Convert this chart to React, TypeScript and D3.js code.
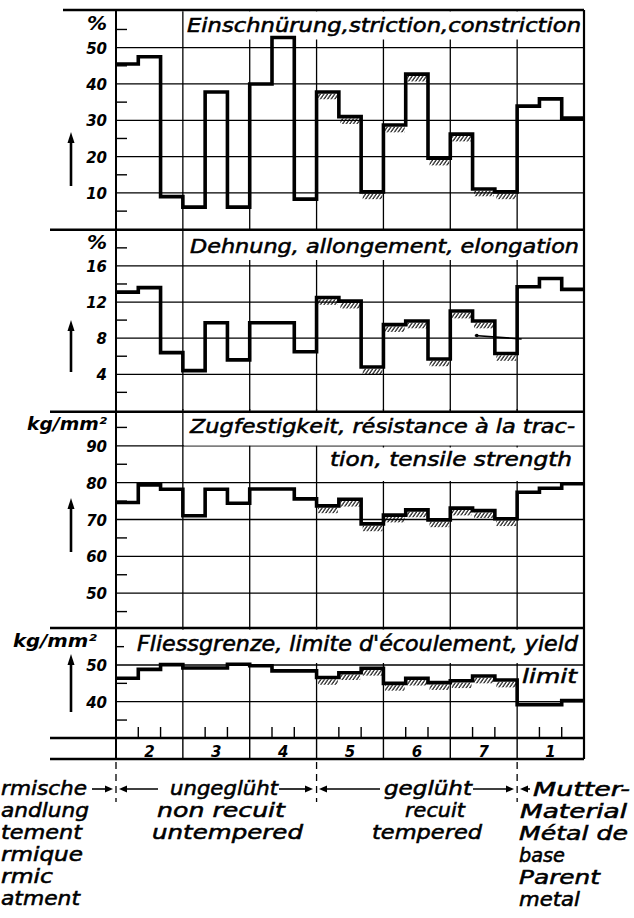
import React from "react";
import * as d3 from "d3";

// ---- data ----
const groups = ["2", "3", "4", "5", "6", "7", "1"];
const striction = [45.5, 47.5, 9.0, 6.1, 37.8, 6.1, 40.0, 52.8, 8.3, 37.8, 31.0, 10.3, 28.7, 42.7, 19.6, 26.2, 11.1, 10.3, 33.9, 35.9, 30.6];
const elongation = [13.1, 13.6, 6.4, 4.4, 9.7, 5.6, 9.7, 9.7, 6.5, 12.5, 12.1, 4.8, 9.5, 9.9, 5.7, 11.0, 9.9, 6.3, 13.7, 14.6, 13.4];
const elongationNote = [[16.1, 8.3], [18.2, 7.9]];
const tensile = [74.6, 79.4, 78.2, 71.0, 78.2, 74.4, 78.3, 78.3, 75.6, 73.7, 75.5, 68.8, 71.2, 72.6, 69.9, 73.1, 72.4, 70.2, 77.4, 78.5, 79.7];
const yieldLimit = [46.4, 48.8, 50.1, 49.2, 49.2, 50.2, 49.8, 48.4, 48.4, 46.6, 47.9, 49.1, 45.0, 46.4, 45.2, 45.7, 47.0, 45.9, 39.2, 39.2, 40.3];

const strictionTicks = [10, 20, 30, 40, 50];
const elongationTicks = [4, 8, 12, 16];
const tensileTicks = [50, 60, 70, 80, 90];
const yieldTicks = [40, 50];

const titles = [
  "Einschnürung,striction,constriction",
  "Dehnung, allongement, elongation",
  "Zugfestigkeit, résistance à la trac-",
  "tion, tensile strength",
  "Fliessgrenze, limite d'écoulement, yield",
  "limit",
];
// visible (cropped) part of "Thermische Behandlung / Traitement thermique / Thermic treatment"
const leftNotes = ["rmische", "andlung", "tement", "rmique", "rmic", "atment"];
const untemperedNotes = ["ungeglüht", "non recuit", "untempered"];
const temperedNotes = ["geglüht", "recuit", "tempered"];
const parentNotes = ["Mutter-", "Material", "Métal de", "base", "Parent", "metal"];

// ---- layout ----
const W = 634, H = 918;
const X0 = 116, X1 = 584;
const FONT = "'DejaVu Sans', sans-serif";
const x = d3.scaleLinear().domain([0, 21]).range([X0, X1]);

type Panel = {
  y: d3.ScaleLinear<number, number>;
  values: number[];
  grid: number[];
  minor: number[];
  unit: string;
  unitY: number;
  unitX: number;
  unitLen?: number;
  arrow: [number, number];
};

const panels: Panel[] = [
  {
    y: d3.scaleLinear().domain([0, 60]).range([229.3, 11.3]),
    values: striction, grid: strictionTicks, minor: [5, 15, 25, 35, 45, 55],
    unit: "%", unitY: 24, unitX: 107, arrow: [186, 132],
  },
  {
    y: d3.scaleLinear().domain([0, 20]).range([410.4, 229.8]),
    values: elongation, grid: elongationTicks, minor: [2, 6, 10, 14, 18],
    unit: "%", unitY: 243, unitX: 107, arrow: [372, 320],
  },
  {
    y: d3.scaleLinear().domain([40, 100]).range([630, 409]),
    values: tensile, grid: tensileTicks, minor: [45, 55, 65, 75, 85, 95],
    unit: "kg/mm²", unitY: 425, unitX: 107, unitLen: 80, arrow: [552, 498],
  },
  {
    y: d3.scaleLinear().domain([30, 60]).range([738.4, 628.3]),
    values: yieldLimit, grid: yieldTicks, minor: [35, 45, 55],
    unit: "kg/mm²", unitY: 642, unitX: 97, unitLen: 84, arrow: [712, 654],
  },
];

const separators = [229.7, 411.7, 628, 738, 759];
const hatchFrom = 9, hatchTo = 18; // groups 5, 6, 7

function stepPath(values: number[], y: d3.ScaleLinear<number, number>) {
  const pts: [number, number][] = values.map((v, i) => [i, v]);
  pts.push([21, values[values.length - 1]]);
  return d3.line<[number, number]>().x((d) => x(d[0])).y((d) => y(d[1])).curve(d3.curveStepAfter)(pts) || "";
}

function Arrow({ x1, x2, y, w = 1.6, head = 8, hw = 3.5 }: { x1: number; x2: number; y: number; w?: number; head?: number; hw?: number }) {
  const dir = x2 > x1 ? 1 : -1;
  return (
    <g>
      <line x1={x1} y1={y} x2={x2 - dir * head * 0.8} y2={y} stroke="#000" strokeWidth={w} />
      <polygon points={`${x2},${y} ${x2 - dir * head},${y - hw} ${x2 - dir * head},${y + hw}`} fill="#000" />
    </g>
  );
}

function UpArrow({ cx, y1, y2 }: { cx: number; y1: number; y2: number }) {
  return (
    <g>
      <line x1={cx} y1={y1} x2={cx} y2={y2 + 8} stroke="#000" strokeWidth={2.6} />
      <polygon points={`${cx},${y2} ${cx - 3.5},${y2 + 11} ${cx + 3.5},${y2 + 11}`} fill="#000" />
    </g>
  );
}

export default function App() {
  const groupBounds = d3.range(0, 22, 3);
  const subTicks = d3.range(0, 22).filter((i) => i % 3 !== 0);
  const txt = { fontFamily: FONT, fontStyle: "italic" as const, fill: "#000" };
  const heavy = { ...txt, stroke: "#000", strokeWidth: 0.55 };

  return (
    <div style={{ position: "absolute", left: 0, top: 0, width: W, height: H, background: "#fff" }}>
      <svg width={W} height={H} viewBox={`0 0 ${W} ${H}`} style={{ display: "block" }}>
        <defs>
          <pattern id="hatch" width="3.6" height="7" patternUnits="userSpaceOnUse" patternTransform="skewX(-35)">
            <line x1="1" y1="0" x2="1" y2="7" stroke="#000" strokeWidth="1.3" />
          </pattern>
        </defs>
        <rect x={0} y={0} width={W} height={H} fill="#fff" />

        {panels.map((p, pi) => {
          const [yb, yt] = p.y.range();
          return (
            <g key={pi}>
              {p.grid.map((g) => (
                <line key={g} x1={X0} x2={X1} y1={p.y(g)} y2={p.y(g)} stroke="#000" strokeWidth={1.3} />
              ))}
              {p.minor.map((m) => (
                <line key={m} x1={X0} x2={X0 + 11} y1={p.y(m)} y2={p.y(m)} stroke="#000" strokeWidth={1.4} />
              ))}
              {groupBounds.slice(1, -1).map((b) => (
                <line key={b} x1={x(b)} x2={x(b)} y1={Math.min(yt, yb)} y2={Math.max(yt, yb)} stroke="#000" strokeWidth={1.3} />
              ))}
              {p.grid.map((g) => (
                <text key={g} x={107} y={p.y(g) + 1.5} textAnchor="end" dominantBaseline="middle" fontSize={15} fontWeight="bold" {...txt}>
                  {g}
                </text>
              ))}
              <text x={p.unitX} y={p.unitY} textAnchor="end" dominantBaseline="middle" fontSize={p.unitLen ? 17 : 20} fontWeight="bold"
                textLength={p.unitLen} lengthAdjust="spacingAndGlyphs" {...txt}>
                {p.unit}
              </text>
              <UpArrow cx={71} y1={p.arrow[0]} y2={p.arrow[1]} />
            </g>
          );
        })}

        {/* title boxes */}
        <rect x={184} y={11.5} width={399} height={28} fill="#fff" />
        <rect x={184} y={231} width={399} height={29} fill="#fff" />
        <rect x={184} y={413} width={399} height={32.5} fill="#fff" />
        <rect x={322} y={447.5} width={261} height={33.5} fill="#fff" />
        <rect x={124} y={629.5} width={459} height={33.5} fill="#fff" />
        <rect x={518.5} y={666.5} width={64.5} height={33.5} fill="#fff" />

        {/* hatching and data lines */}
        {panels.map((p, pi) => (
          <g key={"d" + pi}>
            {p.values.slice(hatchFrom, hatchTo).map((v, k) => {
              const i = hatchFrom + k;
              return (
                <rect key={i} x={x(i) + 1.5} y={p.y(v) + 1.8} width={x(i + 1) - x(i) - 2.5} height={5.5} fill="url(#hatch)" />
              );
            })}
            <path d={stepPath(p.values, p.y)} fill="none" stroke="#000" strokeWidth={3.6} strokeLinejoin="miter" />
          </g>
        ))}
        <path
          d={d3.line<number[]>().x((d) => x(d[0])).y((d) => panels[1].y(d[1]))(elongationNote) || ""}
          fill="none" stroke="#000" strokeWidth={1.6}
        />
        <circle cx={x(elongationNote[0][0]) + 2} cy={panels[1].y(elongationNote[0][1])} r={1.8} fill="#000" />

        {/* titles */}
        <text x={187} y={32} fontSize={20} textLength={394} lengthAdjust="spacingAndGlyphs" {...heavy}>{titles[0]}</text>
        <text x={190} y={253} fontSize={20} textLength={389} lengthAdjust="spacingAndGlyphs" {...heavy}>{titles[1]}</text>
        <text x={190} y={433} fontSize={20} textLength={385} lengthAdjust="spacingAndGlyphs" {...heavy}>{titles[2]}</text>
        <text x={330} y={466} fontSize={20} textLength={242} lengthAdjust="spacingAndGlyphs" {...heavy}>{titles[3]}</text>
        <text x={137} y={651} fontSize={21} textLength={441} lengthAdjust="spacingAndGlyphs" {...heavy}>{titles[4]}</text>
        <text x={522} y={683} fontSize={20} textLength={55} lengthAdjust="spacingAndGlyphs" {...heavy}>{titles[5]}</text>

        {/* frame */}
        <line x1={63} x2={X1} y1={10} y2={10} stroke="#000" strokeWidth={2.6} />
        {separators.map((s) => (
          <line key={s} x1={50} x2={X1} y1={s} y2={s} stroke="#000" strokeWidth={2.4} />
        ))}
        <line x1={X0} x2={X0} y1={10} y2={759} stroke="#000" strokeWidth={2} />
        <line x1={X1} x2={X1} y1={10} y2={759} stroke="#000" strokeWidth={2.2} />
        {groupBounds.slice(1, -1).map((b) => (
          <line key={b} x1={x(b)} x2={x(b)} y1={738} y2={759} stroke="#000" strokeWidth={1.4} />
        ))}
        {subTicks.map((i) => (
          <line key={i} x1={x(i)} x2={x(i)} y1={727} y2={738} stroke="#000" strokeWidth={1.4} />
        ))}
        {groups.map((g, gi) => (
          <text key={g} x={(x(gi * 3) + x(gi * 3 + 3)) / 2} y={757} textAnchor="middle" fontSize={15} fontWeight="bold" {...txt}>
            {g}
          </text>
        ))}

        {/* dashed boundaries */}
        {[0, 9, 18].map((b) => (
          <line key={b} x1={x(b)} x2={x(b)} y1={762} y2={802} stroke="#000" strokeWidth={1.3} strokeDasharray="7 5" />
        ))}

        {/* arrows */}
        <Arrow x1={92} x2={113} y={789} />
        <Arrow x1={158} x2={119} y={789} />
        <Arrow x1={279} x2={313} y={789} />
        <Arrow x1={380} x2={319} y={789} />
        <Arrow x1={473} x2={514} y={789} />
        <Arrow x1={530} x2={520} y={789} />

        {/* bottom notes */}
        {leftNotes.map((t, i) => (
          <text key={t} x={1} y={795 + i * 22} fontSize={20} textLength={[86, 88, 81, 82, 52, 79][i]} lengthAdjust="spacingAndGlyphs" {...heavy}>{t}</text>
        ))}
        {untemperedNotes.map((t, i) => (
          <text key={t} x={[170, 157, 152][i]} y={795 + i * 22} fontSize={20} textLength={[108, 128, 151][i]} lengthAdjust="spacingAndGlyphs" {...heavy}>{t}</text>
        ))}
        {temperedNotes.map((t, i) => (
          <text key={t} x={[384, 405, 372][i]} y={795 + i * 22} fontSize={20} textLength={[88, 60, 110][i]} lengthAdjust="spacingAndGlyphs" {...heavy}>{t}</text>
        ))}
        {parentNotes.map((t, i) => (
          <text key={t} x={[533, 520, 519, 519, 519, 519][i]} y={796 + i * 22} fontSize={20} textLength={[97, 107, 109, 46, 81, 61][i]} lengthAdjust="spacingAndGlyphs" {...heavy}>{t}</text>
        ))}
      </svg>
    </div>
  );
}
